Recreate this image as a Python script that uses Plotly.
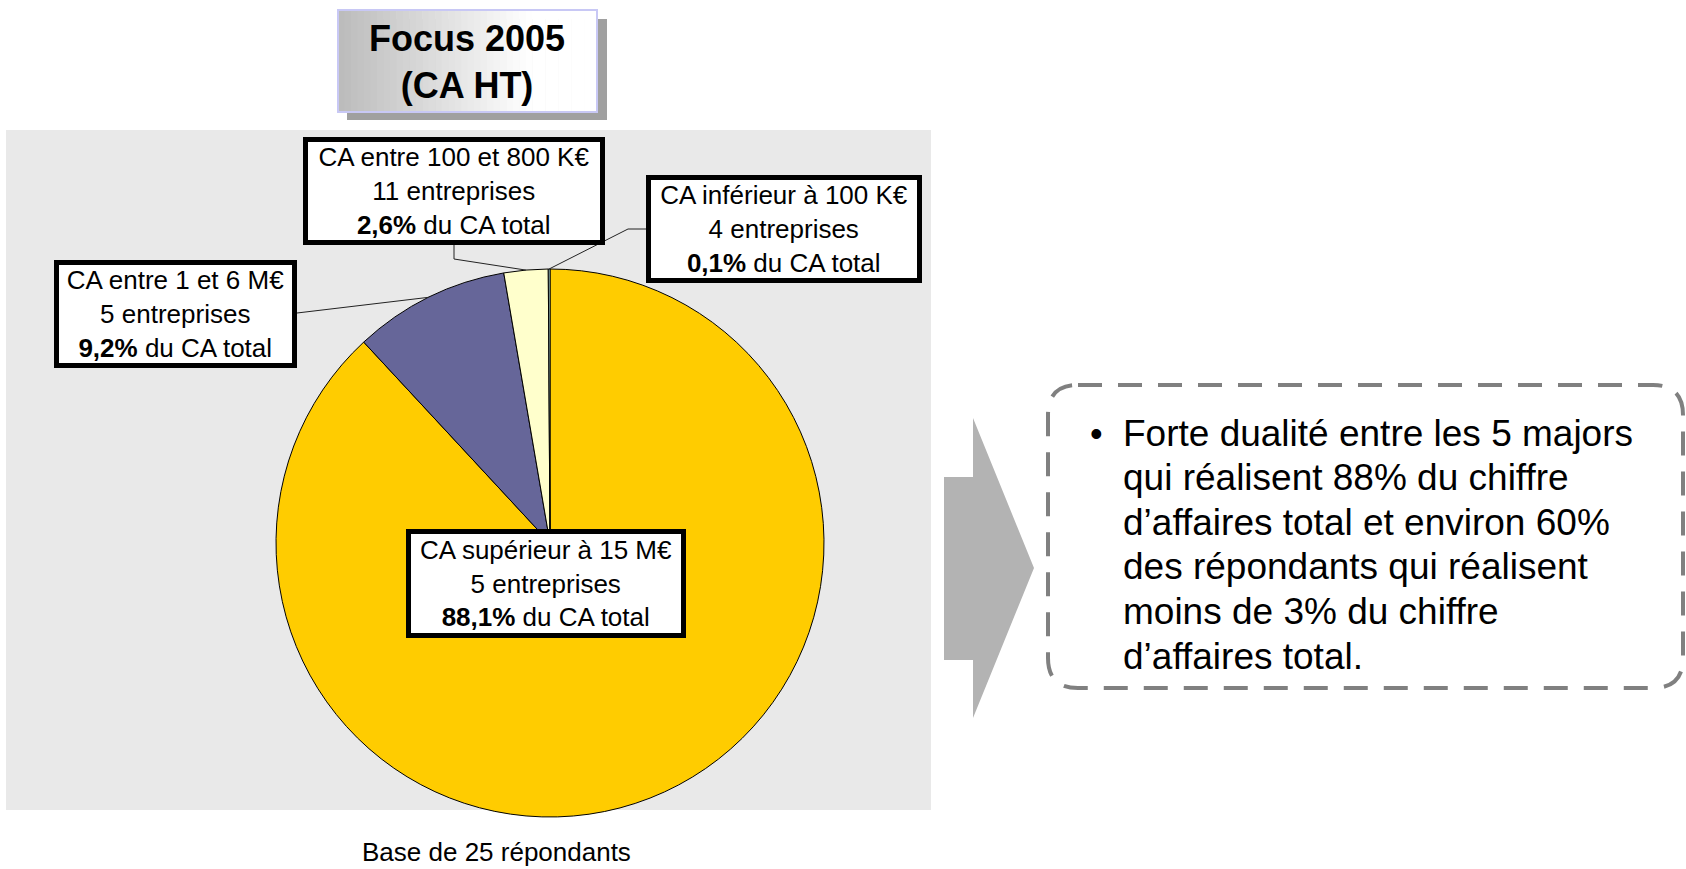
import math
import plotly.graph_objects as go

W, H = 1686, 869

# data
categories = ["CA supérieur à 15 M€", "CA entre 1 et 6 M€", "CA entre 100 et 800 K€", "CA inférieur à 100 K€"]
shares = [88.1, 9.2, 2.6, 0.1]
companies = [5, 5, 11, 4]
slice_colors = ["#FFCC00", "#666699", "#FFFFCC", "#CCFFFF"]

title_lines = ["Focus 2005", "(CA HT)"]
base_note = "Base de 25 répondants"
comment_lines = [
    "Forte dualité entre les 5 majors",
    "qui réalisent 88% du chiffre",
    "d’affaires total et environ 60%",
    "des répondants qui réalisent",
    "moins de 3% du chiffre",
    "d’affaires total.",
]

FONT = "Liberation Sans, Arial, sans-serif"

# pie geometry in page pixels
pie_cx, pie_cy, pie_r = 550, 543, 274

# label boxes: center x, center y, outer width, outer height
label_boxes = [
    (546, 583.5, 280, 109),
    (175.5, 314, 243, 108),
    (454, 191, 302, 108),
    (784, 229, 276, 108),
]
# leader line start / elbow points (end point comes from the slice)
leader_starts = {
    1: [(297, 313)],
    2: [(454, 245), (454, 259)],
    3: [(646, 229), (628, 229)],
}


def fmt_pct(v):
    return f"{v:.1f}".replace(".", ",") + "%"


def label_text(cat, n, v):
    return f"{cat}<br>{n} entreprises<br><b>{fmt_pct(v)}</b> du CA total"


def slice_point(i):
    """point on the pie edge at the middle of slice i (clockwise from 12 o'clock)"""
    total = sum(shares)
    mid = sum(shares[:i]) + shares[i] / 2
    theta = 2 * math.pi * mid / total
    return pie_cx + pie_r * math.sin(theta), pie_cy - pie_r * math.cos(theta)


fig = go.Figure()

# invisible trace so the pixel axes exist
fig.add_trace(go.Scatter(x=[], y=[], showlegend=False, hoverinfo="skip"))

fig.add_trace(go.Pie(
    labels=categories,
    values=shares,
    sort=False,
    direction="clockwise",
    rotation=0,
    marker=dict(colors=slice_colors, line=dict(color="black", width=1)),
    textinfo="none",
    hovertemplate="%{label}<br>%{value}%<extra></extra>",
    showlegend=False,
    domain=dict(
        x=[(pie_cx - pie_r) / W, (pie_cx + pie_r) / W],
        y=[1 - (pie_cy + pie_r) / H, 1 - (pie_cy - pie_r) / H],
    ),
))

shapes = []

# grey chart background
shapes.append(dict(type="rect", xref="x", yref="y", x0=6, y0=130, x1=931, y1=810,
                   fillcolor="#E9E9E9", line=dict(width=0), layer="below"))

# title box: shadow, gradient strips, border
shapes.append(dict(type="rect", xref="x", yref="y", x0=347, y0=19, x1=607, y1=120,
                   fillcolor="#A0A0A0", line=dict(width=0), layer="below"))
tx0, tx1, ty0, ty1 = 338, 597, 10, 112
n_strips = 40
for k in range(n_strips):
    t = k / (n_strips - 1)
    g = int(round(188 + (255 - 188) * min(1.0, t / 0.75)))
    sx0 = tx0 + (tx1 - tx0) * k / n_strips
    sx1 = tx0 + (tx1 - tx0) * (k + 1) / n_strips + 0.6
    shapes.append(dict(type="rect", xref="x", yref="y", x0=sx0, y0=ty0, x1=sx1, y1=ty1,
                       fillcolor=f"rgb({g},{g},{g})", line=dict(width=0), layer="below"))
shapes.append(dict(type="rect", xref="x", yref="y", x0=tx0, y0=ty0, x1=tx1, y1=ty1,
                   fillcolor="rgba(0,0,0,0)", line=dict(color="#C8C8F5", width=2), layer="below"))

# leader lines
for i, pts in leader_starts.items():
    pts = pts + [slice_point(i)]
    path = "M " + " L ".join(f"{x:.1f},{y:.1f}" for x, y in pts)
    shapes.append(dict(type="path", xref="x", yref="y", path=path,
                       line=dict(color="#222222", width=1)))

# grey arrow
arrow = [(944, 477), (973, 477), (973, 418), (1034, 568), (973, 718), (973, 660), (944, 660)]
shapes.append(dict(type="path", xref="x", yref="y",
                   path="M " + " L ".join(f"{x},{y}" for x, y in arrow) + " Z",
                   fillcolor="#B3B3B3", line=dict(width=0)))

# dashed rounded box
x0, y0, x1, y1, rr = 1048, 385, 1683, 688, 30
box_path = (f"M {x0 + rr},{y0} L {x1 - rr},{y0} Q {x1},{y0} {x1},{y0 + rr} "
            f"L {x1},{y1 - rr} Q {x1},{y1} {x1 - rr},{y1} L {x0 + rr},{y1} "
            f"Q {x0},{y1} {x0},{y1 - rr} L {x0},{y0 + rr} Q {x0},{y0} {x0 + rr},{y0} Z")
shapes.append(dict(type="path", xref="x", yref="y", path=box_path,
                   line=dict(color="#808080", width=4, dash="24px,16px")))

annotations = []

annotations.append(dict(x=467, y=62, xref="x", yref="y", showarrow=False,
                        text="<br>".join(f"<b>{t}</b>" for t in title_lines),
                        font=dict(family=FONT, size=36, color="black"), align="center"))

bw, pad = 5, 2
for i, (cat, n, v) in enumerate(zip(categories, companies, shares)):
    cx, cy, bwid, bhgt = label_boxes[i]
    annotations.append(dict(
        x=cx, y=cy, xref="x", yref="y", showarrow=False,
        text=label_text(cat, n, v),
        font=dict(family=FONT, size=26, color="black"),
        align="center", valign="middle",
        bgcolor="white", bordercolor="black", borderwidth=bw, borderpad=pad,
        width=bwid - 2 * (bw + pad), height=bhgt - 2 * (bw + pad),
        xanchor="center", yanchor="middle",
    ))

annotations.append(dict(x=496, y=852, xref="x", yref="y", showarrow=False, text=base_note,
                        font=dict(family=FONT, size=26, color="black")))

annotations.append(dict(x=1096, y=433, xref="x", yref="y", showarrow=False, text="•",
                        font=dict(family=FONT, size=36, color="black"), xanchor="center"))
for k, line in enumerate(comment_lines):
    annotations.append(dict(x=1121, y=433 + 44.6 * k, xref="x", yref="y", showarrow=False,
                            text=line, xanchor="left", yanchor="middle",
                            font=dict(family=FONT, size=37, color="black")))

fig.update_layout(
    width=W, height=H, autosize=False,
    margin=dict(l=0, r=0, t=0, b=0),
    paper_bgcolor="white", plot_bgcolor="rgba(0,0,0,0)",
    xaxis=dict(range=[0, W], visible=False, fixedrange=True, domain=[0, 1]),
    yaxis=dict(range=[H, 0], visible=False, fixedrange=True, domain=[0, 1]),
    shapes=shapes,
    annotations=annotations,
    showlegend=False,
)

fig.write_html("out.html", config={"displayModeBar": False},
               post_script="document.body.style.margin='0';document.body.style.overflow='hidden';")
